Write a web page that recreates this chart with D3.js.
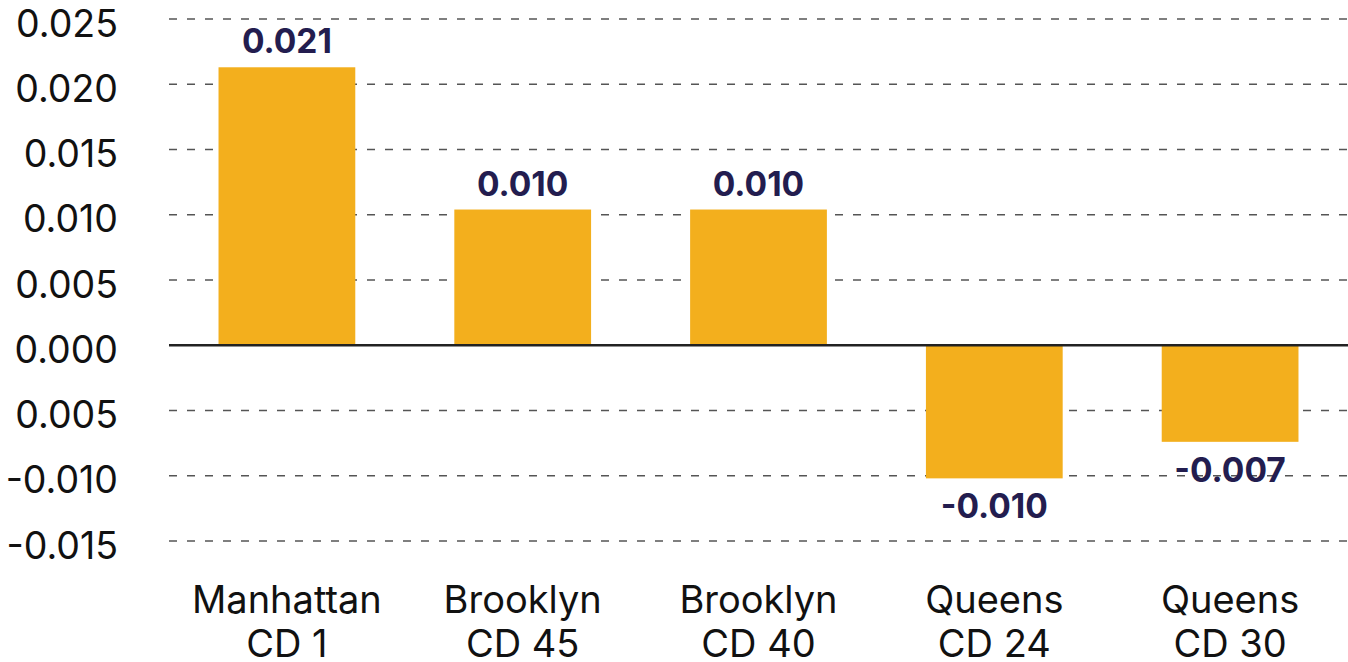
<!DOCTYPE html>
<html>
<head>
<meta charset="utf-8">
<script src="https://cdn.jsdelivr.net/npm/d3@7"></script>
<style>
  body { margin: 0; background: #fff; }
  svg { display: block; font-family: Inter, "Noto Sans", sans-serif; }
</style>
</head>
<body>
<div id="chart"></div>
<script>
var districts = ["Manhattan|CD 1", "Brooklyn|CD 45", "Brooklyn|CD 40", "Queens|CD 24", "Queens|CD 30"];
var values = [0.0213, 0.0104, 0.0104, -0.0102, -0.0074];
var tickValues = [0.025, 0.02, 0.015, 0.01, 0.005, 0, -0.005, -0.01, -0.015];
var tickLabels = ["0.025", "0.020", "0.015", "0.010", "0.005", "0.000", "0.005", "-0.010", "-0.015"];

var width = 1348, height = 662;

var svg = d3.select("#chart")
  .append("svg")
  .attr("width", width)
  .attr("height", height);

var x = d3.scaleBand()
  .domain(districts)
  .range([169, 1348])
  .paddingInner(0.42)
  .paddingOuter(0.21);

var y = d3.scaleLinear()
  .domain([-0.015, 0.025])
  .range([541, 19]);

var fmt = d3.formatLocale({decimal: ".", thousands: ",", grouping: [3], currency: ["", ""], minus: "-"}).format(".3f");

// grid lines
svg.append("g")
  .selectAll("line")
  .data(tickValues.filter(function(d) { return d !== 0; }))
  .enter().append("line")
  .attr("x1", 169)
  .attr("x2", 1348)
  .attr("y1", function(d) { return y(d); })
  .attr("y2", function(d) { return y(d); })
  .attr("stroke", "#555")
  .attr("stroke-width", 1.5)
  .attr("stroke-dasharray", "8,10");

// y labels
svg.append("g")
  .selectAll("text")
  .data(tickValues)
  .enter().append("text")
  .attr("x", 118)
  .attr("y", function(d) { return y(d); })
  .attr("dy", "0.47em")
  .attr("text-anchor", "end")
  .style("font-size", "37.5px")
  .style("fill", "#111")
  .text(function(d, i) { return tickLabels[i]; });

// bars
svg.append("g")
  .selectAll("rect")
  .data(values)
  .enter().append("rect")
  .attr("x", function(d, i) { return x(districts[i]); })
  .attr("width", x.bandwidth())
  .attr("y", function(d) { return y(Math.max(0, d)); })
  .attr("height", function(d) { return Math.abs(y(d) - y(0)); })
  .attr("fill", "#f3af1d");

// zero line
svg.append("line")
  .attr("x1", 169)
  .attr("x2", 1348)
  .attr("y1", y(0))
  .attr("y2", y(0))
  .attr("stroke", "#222")
  .attr("stroke-width", 2.5);

// value labels
svg.append("g")
  .selectAll("text")
  .data(values)
  .enter().append("text")
  .attr("x", function(d, i) { return x(districts[i]) + x.bandwidth() / 2; })
  .attr("y", function(d) { return d >= 0 ? y(d) - 14 : y(d) + 40; })
  .attr("text-anchor", "middle")
  .style("font-size", "33.5px")
  .style("font-weight", "bold")
  .style("fill", "#231d4f")
  .text(function(d) { return fmt(d); });

// category labels
var cat = svg.append("g")
  .selectAll("text")
  .data(districts)
  .enter().append("text")
  .attr("x", function(d) { return x(d) + x.bandwidth() / 2; })
  .attr("y", 613)
  .attr("text-anchor", "middle")
  .style("font-size", "38px")
  .style("fill", "#111");

cat.append("tspan")
  .attr("x", function(d) { return x(d) + x.bandwidth() / 2; })
  .text(function(d) { return d.split("|")[0]; });

cat.append("tspan")
  .attr("x", function(d) { return x(d) + x.bandwidth() / 2; })
  .attr("dy", 44)
  .text(function(d) { return d.split("|")[1]; });
</script>
</body>
</html>
